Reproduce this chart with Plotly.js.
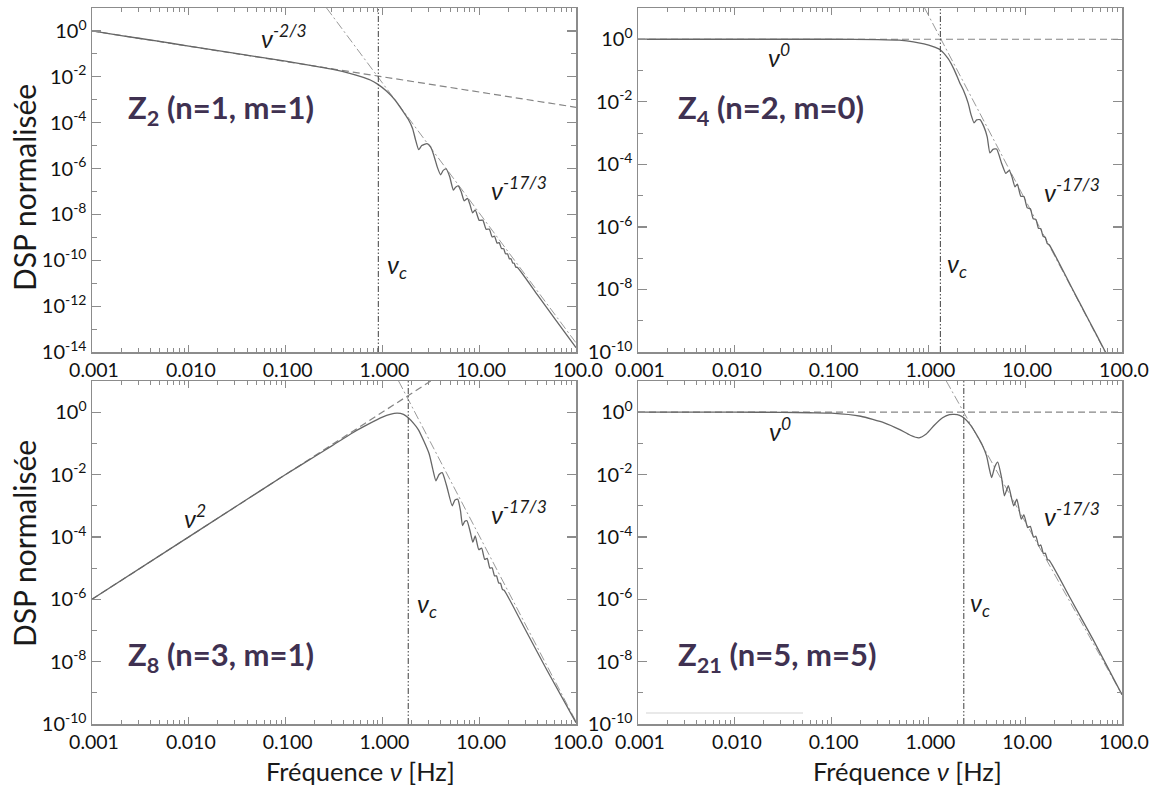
<!DOCTYPE html>
<html><head><meta charset="utf-8">
<script src="https://cdn.plot.ly/plotly-3.0.1.min.js"></script>
<style>html,body{margin:0;padding:0;background:#fff}#chart{width:1150px;height:787px}</style>
</head><body><div id="chart"></div>
<script>
// ---------- DATA ----------
const freqZ2 = [0.001,0.002,0.005,0.01,0.02,0.05,0.1,0.2,0.3,0.45,0.6,0.75,0.9,1.1,1.35,1.6,1.85,2.05,2.2,2.37,2.55,2.89,3.15,3.4,3.7,3.99,4.25,4.57,4.95,5.41,5.7,6.05,6.5,7.0,7.57,8.0,8.55,9.1,10.0,10.9,11.8,12.7,13.6,14.4,15.3,16.1,17.0,17.9,18.7,19.6,20.5,21.3,22.2,23.0,23.9,24.8,40,60,100];
const dspZ2  = [1.0,0.631,0.347,0.219,0.138,0.0759,0.0479,0.0295,0.0214,0.0145,0.0102,7.24e-3,4.68e-3,2.40e-3,9.77e-4,3.55e-4,1.41e-4,5.62e-5,1.78e-5,6.61e-6,1.0e-5,1.23e-5,8.91e-6,3.72e-6,1.12e-6,5.37e-7,8.32e-7,9.55e-7,4.47e-7,1.15e-7,1.51e-7,1.74e-7,1.0e-7,3.89e-8,5.01e-8,2.82e-8,1.17e-8,1.58e-8,5.50e-9,5.62e-9,2.24e-9,2.29e-9,1.05e-9,1.12e-9,5.62e-10,5.89e-10,3.24e-10,3.16e-10,1.91e-10,1.91e-10,1.15e-10,1.17e-10,7.59e-11,7.41e-11,5.01e-11,4.90e-11,3.09e-12,2.95e-13,1.55e-14];
const lowFreqZ2 = [0.001,100],  lowDspZ2 = [1,4.68e-4];        // nu^-2/3
const highFreqZ2 = [0.265,100], highDspZ2 = [10,2.51e-14];     // nu^-17/3
const nuCZ2 = 0.908;

const freqZ4 = [0.001,0.1,0.3,0.5,0.7,0.9,1.1,1.33,1.6,1.85,2.1,2.3,2.58,2.75,2.96,3.15,3.41,3.75,4.05,4.32,4.65,5.07,5.71,6.31,6.85,7.3,7.85,8.3,9.0,9.7,10.5,11.3,12.1,12.9,13.7,14.5,15.3,16.1,16.9,17.7,30,45,65.2,80];
const dspZ4  = [1,1,0.977,0.933,0.832,0.708,0.589,0.457,0.240,0.105,0.0417,0.0234,8.91e-3,3.98e-3,2.14e-3,2.63e-3,2.69e-3,1.58e-3,7.59e-4,2.34e-4,3.02e-4,3.09e-4,1.07e-4,5.13e-5,6.46e-5,3.98e-5,1.91e-5,2.34e-5,9.55e-6,9.33e-6,4.07e-6,3.80e-6,1.82e-6,1.74e-6,9.12e-7,8.71e-7,5.01e-7,4.68e-7,2.95e-7,2.69e-7,1.20e-8,1.10e-9,1.23e-10,3.6e-11];
const lowFreqZ4 = [0.001,100],   lowDspZ4 = [1,1];             // nu^0
const highFreqZ4 = [0.914,66.8], highDspZ4 = [10,1e-10];       // nu^-17/3
const nuCZ4 = 1.33;

const freqZ8 = [0.001,0.01,0.1,0.2,0.3,0.5,0.7,1.0,1.2,1.42,1.65,1.85,2.1,2.34,2.7,3.05,3.3,3.57,3.85,4.15,4.6,5.26,5.6,6.0,6.4,6.73,7.1,7.48,8.1,8.6,9.1,9.9,10.6,11.4,12.1,12.9,13.6,14.4,15.1,15.9,16.6,17.4,18.1,30,50,100];
const dspZ8  = [1e-6,1e-4,0.01,0.038,0.083,0.224,0.398,0.692,0.851,0.933,0.851,0.661,0.437,0.282,0.112,0.0447,0.0158,6.31e-3,0.01,0.0115,4.47e-3,1e-3,1.51e-3,1.62e-3,7.08e-4,2.29e-4,3.16e-4,3.31e-4,1.41e-4,6.76e-5,1.07e-4,3.89e-5,4.37e-5,1.91e-5,2.04e-5,1e-5,1.02e-5,5.62e-6,5.62e-6,3.31e-6,3.24e-6,2.04e-6,1.95e-6,1.05e-7,5.37e-9,1.1e-10];
const lowFreqZ8 = [0.001,3.16],  lowDspZ8 = [1e-6,10];         // nu^2
const highFreqZ8 = [1.47,100],   highDspZ8 = [10,1.2e-10];     // nu^-17/3
const nuCZ8 = 1.85;

const freqZ21 = [0.001,0.01,0.03,0.06,0.1,0.2,0.35,0.5,0.65,0.8,0.95,1.15,1.4,1.65,1.85,2.1,2.32,2.7,3.13,3.6,3.99,4.25,4.5,4.85,5.2,5.7,6.1,6.7,7.6,8.2,9.1,9.7,10.6,11.3,12.2,12.9,13.8,14.5,15.4,16.1,17.0,17.7,30,50,100];
const dspZ21  = [1,1,0.99,0.96,0.93,0.74,0.457,0.282,0.182,0.151,0.200,0.380,0.661,0.832,0.851,0.794,0.661,0.398,0.195,0.0891,0.0398,0.0158,7.94e-3,0.0178,0.0251,7.94e-3,2.09e-3,4.37e-3,1e-3,1.62e-3,3.72e-4,5.13e-4,2.0e-4,2.19e-4,9.77e-5,1.05e-4,5.13e-5,5.50e-5,2.95e-5,3.02e-5,1.86e-5,1.78e-5,9.33e-7,5.25e-8,8.7e-10];
const lowFreqZ21 = [0.001,100],  lowDspZ21 = [1,1];            // nu^0
const highFreqZ21 = [1.53,100],  highDspZ21 = [10,8.7e-10];    // nu^-17/3
const nuCZ21 = 2.32;

const xTickVals = [0.001,0.01,0.1,1,10,100];
const xTickText = ["0.001","0.010","0.100","1.000","10.00","100.0"];
const yTickValsZ2 = [1,1e-2,1e-4,1e-6,1e-8,1e-10,1e-12,1e-14];
const yTickTextZ2 = ["10<sup>0</sup>","10<sup>-2</sup>","10<sup>-4</sup>","10<sup>-6</sup>","10<sup>-8</sup>","10<sup>-10</sup>","10<sup>-12</sup>","10<sup>-14</sup>"];
const yTickVals = [1,1e-2,1e-4,1e-6,1e-8,1e-10];
const yTickText = ["10<sup>0</sup>","10<sup>-2</sup>","10<sup>-4</sup>","10<sup>-6</sup>","10<sup>-8</sup>","10<sup>-10</sup>"];

// ---------- LAYOUT HELPERS ----------
const W = 1150, H = 787;
const px = x => x / W, py = y => 1 - y / H;
const FONT = "Lato, 'Open Sans', sans-serif";
const AX = '#8c8c8c';

const minorX = [];
for (let k = -3; k <= 1; k++) for (let d = 2; d <= 9; d++) minorX.push(d * Math.pow(10, k));
const minorYZ2 = [10,1e-1,1e-3,1e-5,1e-7,1e-9,1e-11,1e-13];
const minorY = [10,1e-1,1e-3,1e-5,1e-7,1e-9];

function xAxis(dom, anchor) {
  return {domain: dom, anchor: anchor, type: 'log', range: [-3, 2],
    tickvals: xTickVals, ticktext: xTickText, ticks: 'inside', ticklen: 7, tickwidth: 1.2,
    tickcolor: AX, showline: true, linecolor: AX, linewidth: 1.5, mirror: 'allticks',
    showgrid: false, zeroline: false, ticklabelshift: 2, ticklabeloverflow: 'allow',
    minor: {tickvals: minorX, ticks: 'inside', ticklen: 4, tickwidth: 1, tickcolor: AX, showgrid: false},
    tickfont: {family: FONT, size: 19.5, color: '#111'}, fixedrange: true};
}
function yAxis(dom, anchor, rng, tv, tt, mn) {
  return {domain: dom, anchor: anchor, type: 'log', range: rng,
    tickvals: tv, ticktext: tt, ticks: 'inside', ticklen: 9, tickwidth: 1.2,
    tickcolor: AX, showline: true, linecolor: AX, linewidth: 1.5, mirror: 'allticks',
    showgrid: false, zeroline: false, ticklabeloverflow: 'allow',
    minor: {tickvals: mn, ticks: 'inside', ticklen: 5, tickwidth: 1, tickcolor: AX, showgrid: false},
    tickfont: {family: FONT, size: 20, color: '#111'}, fixedrange: true};
}

const xDomL = [px(92), px(576)], xDomR = [px(638), px(1122)];
const yDomT = [py(352), py(8)],  yDomB = [py(724), py(381)];

function panel(xa, ya, fr, ds, lf, ld, hf, hd, nuC, yBot) {
  return [
    {x: lf, y: ld, xaxis: xa, yaxis: ya, mode: 'lines', line: {color: '#858585', width: 1.2, dash: '7px,4px'}, hoverinfo: 'skip'},
    {x: hf, y: hd, xaxis: xa, yaxis: ya, mode: 'lines', line: {color: '#9a9a9a', width: 1, dash: '9px,3px,2px,3px'}, hoverinfo: 'skip'},
    {x: fr, y: ds, xaxis: xa, yaxis: ya, mode: 'lines', line: {color: '#666', width: 1.3, shape: 'spline', smoothing: 0.5}},
    {x: [nuC, nuC], y: [yBot, 10], xaxis: xa, yaxis: ya, mode: 'lines', line: {color: '#505050', width: 1.1, dash: '6px,2px,1.5px,2px,1.5px,2px'}, hoverinfo: 'skip'}
  ];
}

const data = [].concat(
  panel('x', 'y', freqZ2, dspZ2, lowFreqZ2, lowDspZ2, highFreqZ2, highDspZ2, nuCZ2, 1e-14),
  panel('x2', 'y2', freqZ4, dspZ4, lowFreqZ4, lowDspZ4, highFreqZ4, highDspZ4, nuCZ4, 1e-10),
  panel('x3', 'y3', freqZ8, dspZ8, lowFreqZ8, lowDspZ8, highFreqZ8, highDspZ8, nuCZ8, 1e-10),
  panel('x4', 'y4', freqZ21, dspZ21, lowFreqZ21, lowDspZ21, highFreqZ21, highDspZ21, nuCZ21, 1e-10)
);

function txt(x, y, text, opts) {
  return Object.assign({xref: 'paper', yref: 'paper', x: px(x), y: py(y), text: text, showarrow: false,
    xanchor: 'center', yanchor: 'middle', font: {family: FONT, size: 22, color: '#1a1a1a'}}, opts || {});
}
const lab = {family: FONT, size: 31, color: '#3f3151', weight: 'bold'};
const it = {family: FONT, size: 25, color: '#1a1a1a', style: 'italic'};
const ttl = {family: FONT, size: 25.5, color: '#1a1a1a'};
const ttlY = {family: FONT, size: 30, color: '#1a1a1a'};

const annotations = [
  txt(126, 109, 'Z<sub>2</sub> (n=1, m=1)', {xanchor: 'left', font: lab}),
  txt(676, 109, 'Z<sub>4</sub> (n=2, m=0)', {xanchor: 'left', font: lab}),
  txt(126, 656, 'Z<sub>8</sub> (n=3, m=1)', {xanchor: 'left', font: lab}),
  txt(676, 656, 'Z<sub>21</sub> (n=5, m=5)', {xanchor: 'left', font: lab}),
  txt(284, 37, 'ν<sup>-2/3</sup>', {font: it}),
  txt(519, 189, 'ν<sup>-17/3</sup>', {font: it}),
  txt(397, 266, 'ν<sub>c</sub>', {font: it}),
  txt(779, 56, 'ν<sup>0</sup>', {font: it}),
  txt(1072, 190, 'ν<sup>-17/3</sup>', {font: it}),
  txt(957, 265, 'ν<sub>c</sub>', {font: it}),
  txt(195, 516, 'ν<sup>2</sup>', {font: it}),
  txt(519, 512, 'ν<sup>-17/3</sup>', {font: it}),
  txt(427, 605, 'ν<sub>c</sub>', {font: it}),
  txt(780, 429, 'ν<sup>0</sup>', {font: it}),
  txt(1072, 514, 'ν<sup>-17/3</sup>', {font: it}),
  txt(980, 604, 'ν<sub>c</sub>', {font: it}),
  txt(24, 188, 'DSP normalisée', {textangle: -90, font: ttlY}),
  txt(24, 544, 'DSP normalisée', {textangle: -90, font: ttlY}),
  txt(360, 771, 'Fréquence <i>ν</i> [Hz]', {font: ttl}),
  txt(907, 771, 'Fréquence <i>ν</i> [Hz]', {font: ttl})
];

const layout = {
  width: W, height: H, margin: {l: 0, r: 0, t: 0, b: 0},
  paper_bgcolor: '#fff', plot_bgcolor: '#fff', showlegend: false,
  font: {family: FONT, color: '#1a1a1a'},
  xaxis: xAxis(xDomL, 'y'),  yaxis: yAxis(yDomT, 'x', [-14, 1], yTickValsZ2, yTickTextZ2, minorYZ2),
  xaxis2: xAxis(xDomR, 'y2'), yaxis2: yAxis(yDomT, 'x2', [-10, 1], yTickVals, yTickText, minorY),
  xaxis3: xAxis(xDomL, 'y3'), yaxis3: yAxis(yDomB, 'x3', [-10, 1], yTickVals, yTickText, minorY),
  xaxis4: xAxis(xDomR, 'y4'), yaxis4: yAxis(yDomB, 'x4', [-10, 1], yTickVals, yTickText, minorY),
  annotations: annotations,
  shapes: [{type: 'line', xref: 'paper', yref: 'paper', x0: px(646), x1: px(803), y0: py(713), y1: py(713), line: {color: '#e2e2e2', width: 1.5}}]
};

Plotly.newPlot('chart', data, layout, {displayModeBar: false, staticPlot: true});
</script></body></html>
